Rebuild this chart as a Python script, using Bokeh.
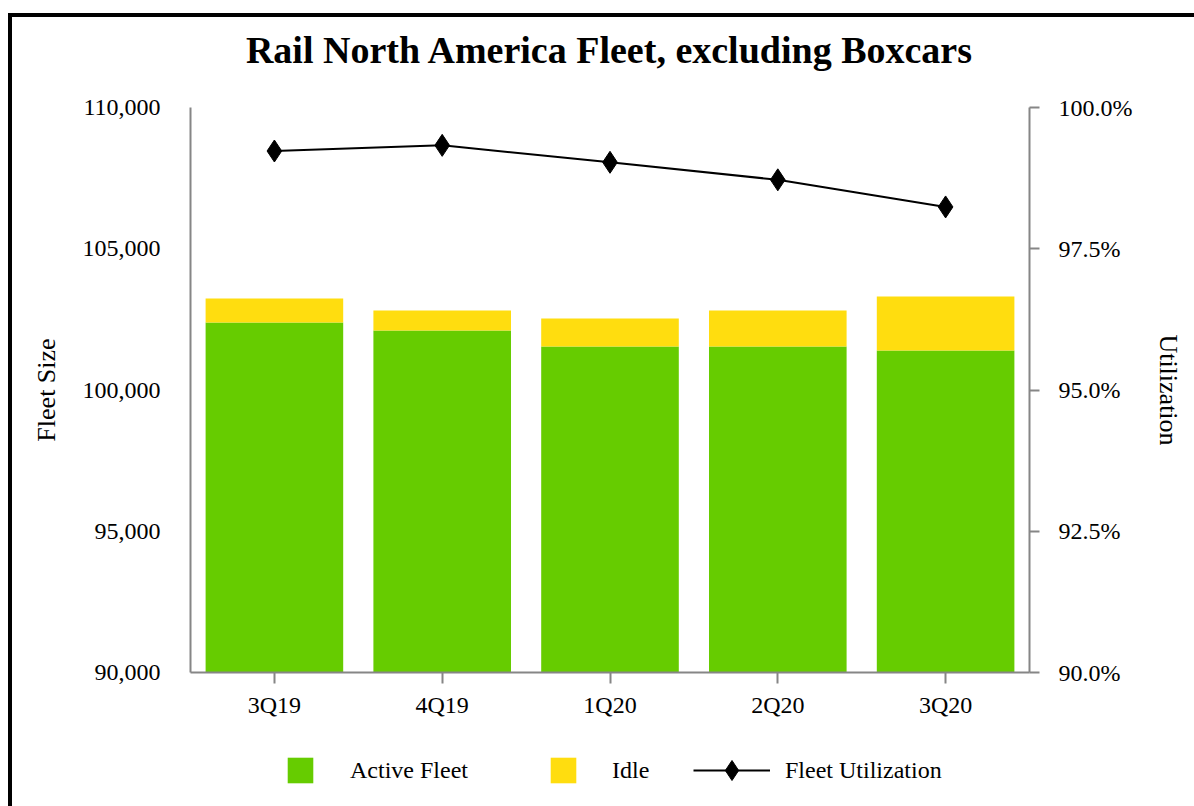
from bokeh.plotting import figure
from bokeh.layouts import column
from bokeh.models import (FactorRange, Range1d, LinearAxis, FixedTicker, NumeralTickFormatter,
                          PrintfTickFormatter, Legend, LegendItem, ColumnDataSource, Title)
from bokeh.embed import file_html
from bokeh.resources import INLINE

quarters = ["3Q19", "4Q19", "1Q20", "2Q20", "3Q20"]
active_fleet = [102390, 102110, 101540, 101540, 101400]
idle_fleet = [850, 700, 990, 1270, 1910]
utilization = [99.23, 99.33, 99.03, 98.72, 98.24]
left_ticks = [90000, 95000, 100000, 105000, 110000]
right_ticks = [90.0, 92.5, 95.0, 97.5, 100.0]

FONT = "Liberation Serif"
GREEN = "#66cc00"
YELLOW = "#ffdd0f"
AXIS = "#868686"

src = ColumnDataSource(dict(q=quarters, active=active_fleet, idle=idle_fleet, util=utilization))

p = figure(x_range=FactorRange(*quarters, range_padding=0), y_range=Range1d(90000, 110000),
           width=1182, height=718, output_backend="svg", toolbar_location=None,
           min_border_left=178, min_border_right=165, min_border_top=90, min_border_bottom=63)
p.outline_line_color = None
p.xgrid.visible = False
p.ygrid.visible = False

bars = p.vbar_stack(["active", "idle"], x="q", width=0.82, color=[GREEN, YELLOW],
                    line_color=None, source=src)

p.extra_y_ranges = {"util": Range1d(90, 100)}
ln = p.line(x="q", y="util", y_range_name="util", line_color="black", line_width=2, source=src)
pts = p.scatter(x="q", y="util", y_range_name="util", marker="diamond", size=22,
                color="black", source=src)

# title (a blank spacer title sits between the frame and the main title)
p.title.text = "Rail North America Fleet, excluding Boxcars"
p.title.align = "center"
p.title.text_font = FONT
p.title.text_font_size = "38px"
p.title.text_font_style = "bold"
p.title.text_color = "black"
p.title.standoff = 10
p.add_layout(Title(text=" ", text_font_size="26px", standoff=0), "above")

# x axis
xa = p.xaxis[0]
xa.axis_line_color = AXIS
xa.axis_line_width = 2
xa.major_tick_line_color = AXIS
xa.major_tick_line_width = 2
xa.major_tick_out = 11
xa.major_tick_in = 0
xa.minor_tick_line_color = None
xa.major_label_standoff = 8
xa.major_label_text_font = FONT
xa.major_label_text_font_size = "24px"
xa.major_label_text_color = "black"

# left axis
ya = p.yaxis[0]
ya.ticker = FixedTicker(ticks=left_ticks)
ya.formatter = NumeralTickFormatter(format="0,0")
ya.axis_line_color = AXIS
ya.axis_line_width = 2
ya.major_tick_out = 0
ya.major_tick_in = 0
ya.minor_tick_line_color = None
ya.major_label_standoff = 30
ya.major_label_text_font = FONT
ya.major_label_text_font_size = "24px"
ya.major_label_text_color = "black"
ya.axis_label = "Fleet Size"
ya.axis_label_text_font = FONT
ya.axis_label_text_font_size = "26px"
ya.axis_label_text_font_style = "normal"
ya.axis_label_text_color = "black"
ya.axis_label_standoff = 19

# right axis
ra = LinearAxis(y_range_name="util", ticker=FixedTicker(ticks=right_ticks),
                formatter=PrintfTickFormatter(format="%.1f%%"))
ra.axis_line_color = AXIS
ra.axis_line_width = 2
ra.major_tick_line_color = AXIS
ra.major_tick_line_width = 2
ra.major_tick_out = 10
ra.major_tick_in = 0
ra.minor_tick_line_color = None
ra.major_label_standoff = 19
ra.major_label_text_font = FONT
ra.major_label_text_font_size = "24px"
ra.major_label_text_color = "black"
ra.axis_label = "Utilization"
ra.axis_label_text_font = FONT
ra.axis_label_text_font_size = "26px"
ra.axis_label_text_font_style = "normal"
ra.axis_label_text_color = "black"
ra.axis_label_standoff = 19
p.add_layout(ra, "right")

# legend strip (separate figure, frame aligned with the chart's frame)
lf = figure(x_range=Range1d(0, 839), y_range=Range1d(0, 71), width=1182, height=71,
            output_backend="svg", toolbar_location=None,
            min_border_left=178, min_border_right=165, min_border_top=0, min_border_bottom=0)
lf.axis.visible = False
lf.grid.visible = False
lf.outline_line_color = None
dummy = ColumnDataSource(dict(x=[-1000], y=[-1000], top=[-1000]))
lg_active = lf.vbar(x="x", top="top", width=1, color=GREEN, line_color=None, source=dummy)
lg_idle = lf.vbar(x="x", top="top", width=1, color=YELLOW, line_color=None, source=dummy)
lg_line = lf.line(x="x", y="y", line_color="black", line_width=2, source=dummy)
lg_pts = lf.scatter(x="x", y="y", marker="diamond", size=22, color="black", source=dummy)


def make_legend(label, renderers, loc, gw, gh, standoff):
    leg = Legend(items=[LegendItem(label=label, renderers=renderers)], location=loc,
                 orientation="horizontal", padding=0, margin=0, spacing=0,
                 glyph_width=gw, glyph_height=gh, label_height=gh, label_standoff=standoff,
                 label_text_font=FONT, label_text_font_size="24px", label_text_color="black",
                 border_line_alpha=0, background_fill_alpha=0)
    lf.add_layout(leg, "center")


make_legend("Active Fleet", [lg_active], (94, 20), 32, 32, 34)
make_legend("Idle", [lg_idle], (357, 20), 32, 32, 33)
make_legend("Fleet Utilization", [lg_line, lg_pts], (503, 11), 77, 50, 15)

layout = column(p, lf, spacing=0,
                styles={"margin-left": "8px", "margin-top": "13px",
                        "border-left": "4px solid black", "border-top": "4px solid black"})

open("out.html", "w").write(file_html(layout, INLINE))
